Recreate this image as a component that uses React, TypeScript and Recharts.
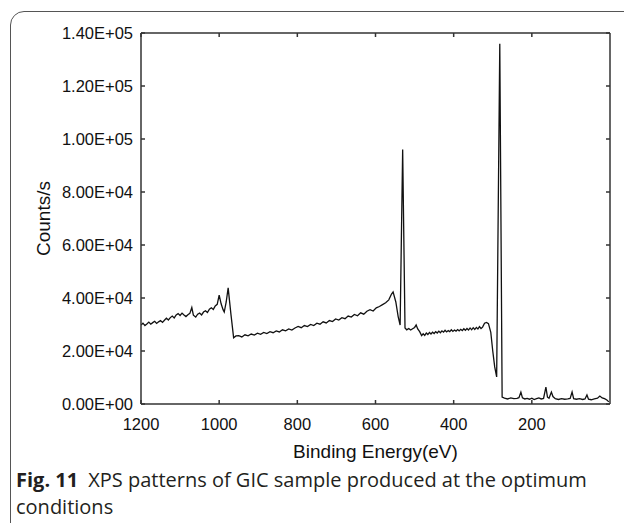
import React from 'react';
import { LineChart, Line, XAxis, YAxis, Label } from 'recharts';

const energy = [
  1200, 1195, 1190, 1185, 1180, 1175, 1170, 1165, 1160, 1155, 1150, 1145, 1140, 1135, 1130, 1125,
  1120, 1115, 1110, 1105, 1100, 1095, 1090, 1085, 1080, 1075, 1070, 1066, 1060, 1055, 1050, 1045,
  1040, 1035, 1030, 1025, 1020, 1015, 1010, 1005, 1000, 995, 990, 987, 982, 977, 970, 963,
  957, 950, 942, 934, 926, 918, 910, 902, 894, 886, 878, 870, 862, 854, 846, 838,
  830, 822, 814, 806, 798, 790, 782, 774, 766, 758, 750, 742, 734, 726, 718, 710,
  702, 694, 686, 678, 670, 662, 654, 646, 638, 630, 622, 614, 606, 598, 590, 582,
  574, 566, 559, 555, 548, 542, 537, 530.5, 524.5, 520, 515, 510, 505, 500, 496, 492,
  487, 482, 478, 474, 470, 466, 462, 458, 454, 450, 446, 442, 438, 434, 430, 426,
  422, 418, 414, 410, 406, 402, 398, 394, 390, 386, 382, 378, 374, 370, 366, 362,
  358, 354, 350, 346, 342, 338, 334, 330, 326, 321, 316, 311, 305, 300, 295, 290,
  282, 276, 270, 262, 254, 246, 238, 233, 228, 224, 218, 212, 206, 200, 194, 188,
  182, 176, 170, 164, 160, 156, 150, 146, 140, 132, 124, 116, 108, 102, 97, 93,
  86, 78, 70, 64, 59, 55, 48, 40, 32, 26, 20, 14, 8, 3,
];

// counts per second at each energy above
const counts = [
  29800, 30500, 29600, 30200, 30900, 30100, 30700, 31200, 30400, 31000, 31500, 30800, 31600, 32400, 31700, 32600,
  33200, 32500, 33600, 34100, 33400, 34300, 33600, 33000, 33700, 34200, 36400, 33500, 32800, 33900, 34300, 33600,
  34700, 35200, 34500, 35800, 36300, 35700, 37000, 37600, 41100, 37800, 35600, 34700, 38500, 43800, 34000, 25000,
  25700, 25800, 25300, 26100, 25700, 26400, 26000, 26700, 26300, 27000, 26600, 27300, 26900, 27600, 27200, 28000,
  27600, 28300, 27900, 28700, 29300, 28800, 29600, 29200, 30000, 29600, 30500, 30100, 31000, 30600, 31500, 31100,
  32100, 31700, 32600, 32200, 33200, 32800, 33800, 33300, 34400, 33900, 35000, 35600, 35100, 36300, 36800, 37500,
  38200, 39300, 41500, 42300, 38500, 33000, 29800, 96000, 28700, 28000, 28500, 27900, 28400, 28900, 29800, 28300,
  27300, 25800, 26500, 25900, 26800, 26200, 27000, 26400, 27100, 26600, 27300, 26800, 27500, 26900, 27600, 27100,
  27800, 27200, 27700, 27300, 28000, 27400, 27900, 27500, 28100, 27600, 28200, 27700, 28400, 27800, 28500, 27900,
  28700, 28000, 28800, 28100, 28900, 28300, 29200, 28500, 29000, 30500, 30800, 30300, 27000, 20000, 14000, 10200,
  135900, 2600, 2200, 1900, 2300, 2000, 2100, 2400, 4500, 2300, 1900, 2100, 1800, 2200, 1700, 2000,
  2300, 1900, 2100, 6400, 2600, 2200, 4500, 2800, 2000, 1700, 2000, 1800, 1900, 2100, 4500, 2000,
  1800, 2000, 1700, 1900, 3400, 1800, 1600, 1900, 2200, 3000, 2300, 2000, 1500, 800,
];

const xTicks = [200, 400, 600, 800, 1000, 1200];
const yTicks = [0, 20000, 40000, 60000, 80000, 100000, 120000, 140000];

const data = energy.map((e, i) => ({ e, c: counts[i] }));

// 1.40E+05 style labels
const sci = (v: number) => {
  const [m, ex] = v.toExponential(2).split('e');
  const n = parseInt(ex, 10);
  return `${m}E${n < 0 ? '-' : '+'}${String(Math.abs(n)).padStart(2, '0')}`;
};
const blank = () => '';

const axisFont = '"Liberation Sans", Arial, sans-serif';
const axisColor = '#333';

export default function App() {
  return (
    <div
      style={{
        position: 'absolute',
        left: 0,
        top: 0,
        width: 624,
        height: 523,
        overflow: 'hidden',
        background: '#fff',
      }}
    >
      <div
        style={{
          position: 'absolute',
          left: 10,
          top: 11,
          width: 660,
          height: 560,
          border: '1.3px solid #555',
          borderRadius: 14,
          boxSizing: 'border-box',
        }}
      />
      <div style={{ position: 'absolute', left: 0, top: 0 }}>
        <LineChart width={624} height={523} data={data} margin={{ top: 32, right: 13, bottom: 0, left: 0 }}>
          <XAxis
            dataKey="e"
            type="number"
            domain={[0, 1200]}
            allowDataOverflow
            reversed
            ticks={xTicks}
            height={119}
            stroke={axisColor}
            strokeWidth={1.5}
            tickSize={-4}
            tickMargin={18}
            tick={{ fill: '#111', fontSize: 16.5, fontFamily: axisFont }}
          >
            <Label
              value="Binding Energy(eV)"
              position="insideTop"
              offset={41}
              fill="#111"
              fontSize={19}
              fontFamily={axisFont}
            />
          </XAxis>
          <XAxis
            xAxisId="top"
            orientation="top"
            dataKey="e"
            type="number"
            domain={[0, 1200]}
            allowDataOverflow
            reversed
            ticks={xTicks}
            height={1}
            stroke={axisColor}
            strokeWidth={1.5}
            tickSize={-4}
            tickFormatter={blank}
          />
          <YAxis
            type="number"
            domain={[0, 140000]}
            allowDataOverflow
            ticks={yTicks}
            width={141}
            stroke={axisColor}
            strokeWidth={1.5}
            tickSize={-4}
            tickMargin={12}
            tickFormatter={sci}
            tick={{ fill: '#111', fontSize: 16.5, fontFamily: axisFont }}
          >
            <Label
              content={({ viewBox }: any) => {
                const cx = viewBox.x + 43;
                const cy = viewBox.y + viewBox.height / 2;
                return (
                  <text
                    x={cx}
                    y={cy}
                    transform={`rotate(-90, ${cx}, ${cy})`}
                    textAnchor="middle"
                    dominantBaseline="central"
                    fill="#111"
                    fontSize={19}
                    fontFamily={axisFont}
                  >
                    Counts/s
                  </text>
                );
              }}
            />
          </YAxis>
          <YAxis
            yAxisId="right"
            orientation="right"
            type="number"
            domain={[0, 140000]}
            allowDataOverflow
            ticks={yTicks}
            width={1}
            stroke={axisColor}
            strokeWidth={1.5}
            tickSize={-4}
            tickFormatter={blank}
          />
          <Line
            type="linear"
            dataKey="c"
            stroke="#111"
            strokeWidth={1.3}
            dot={false}
            isAnimationActive={false}
          />
        </LineChart>
      </div>
      <div
        style={{
          position: 'absolute',
          left: 16,
          top: 466,
          width: 608,
          fontFamily: '"Open Sans", "Noto Sans", sans-serif',
          fontSize: 20,
          lineHeight: '27px',
          color: '#231f20',
          whiteSpace: 'nowrap',
        }}
      >
        <b>Fig. 11</b>
        <span style={{ marginLeft: 10 }}>XPS patterns of GIC sample produced at the optimum</span>
        <br />
        conditions
      </div>
    </div>
  );
}
